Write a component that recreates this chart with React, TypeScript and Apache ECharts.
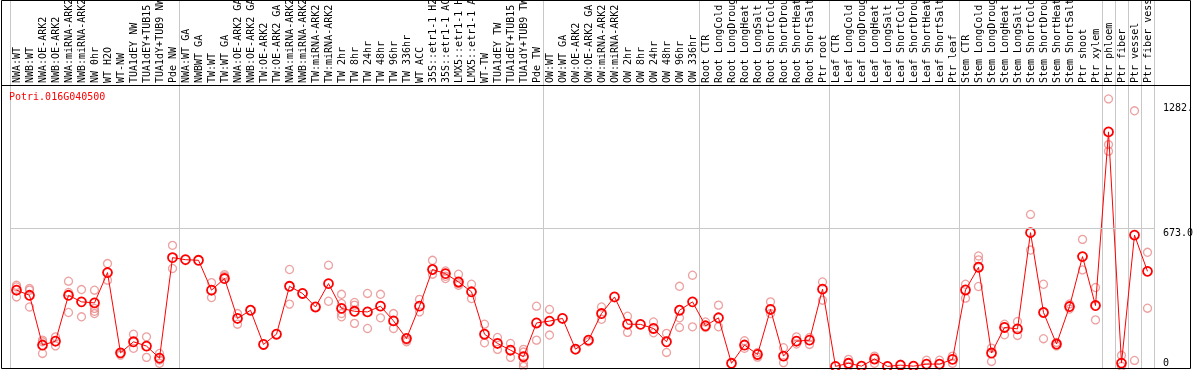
import React, { useEffect, useRef } from 'react';
import * as echarts from 'echarts';

const geneId = 'Potri.016G040500';

const categories = [
  'NWA:WT', 'NWB:WT', 'NWA:OE-ARK2', 'NWB:OE-ARK2', 'NWA:miRNA-ARK2', 'NWB:miRNA-ARK2', 'NW 0hr', 'WT H2O', 'WT-NW',
  'TUA1dEY NW', 'TUA1dEY+TUB15 NW', 'TUA1dY+TUB9 NW', 'Pde NW',
  'NWA:WT GA', 'NWBWT GA', 'TW:WT', 'TW:WT GA', 'NWA:OE-ARK2 GA', 'NWB:OE-ARK2 GA', 'TW:OE-ARK2', 'TW:OE-ARK2 GA',
  'NWA:miRNA-ARK2 GA', 'NWB:miRNA-ARK2 GA', 'TW:miRNA-ARK2', 'TW:miRNA-ARK2 GA', 'TW 2hr', 'TW 8hr', 'TW 24hr', 'TW 48hr',
  'TW 96hr', 'TW 336hr', 'WT ACC', '35S::etr1-1 H2O', '35S::etr1-1 ACC', 'LMX5::etr1-1 H2O', 'LMX5::etr1-1 ACC', 'WT-TW',
  'TUA1dEY TW', 'TUA1dEY+TUB15 TW', 'TUA1dY+TUB9 TW', 'Pde TW',
  'OW:WT', 'OW:WT GA', 'OW:OE-ARK2', 'OW:OE-ARK2 GA', 'OW:miRNA-ARK2', 'OW:miRNA-ARK2 GA', 'OW 2hr', 'OW 8hr', 'OW 24hr',
  'OW 48hr', 'OW 96hr', 'OW 336hr',
  'Root CTR', 'Root LongCold', 'Root LongDrought', 'Root LongHeat', 'Root LongSalt', 'Root ShortCold', 'Root ShortDrought',
  'Root ShortHeat', 'Root ShortSalt', 'Ptr root',
  'Leaf CTR', 'Leaf LongCold', 'Leaf LongDrought', 'Leaf LongHeat', 'Leaf LongSalt', 'Leaf ShortCold', 'Leaf ShortDrought',
  'Leaf ShortHeat', 'Leaf ShortSalt', 'Ptr leaf',
  'Stem CTR', 'Stem LongCold', 'Stem LongDrought', 'Stem LongHeat', 'Stem LongSalt', 'Stem ShortCold', 'Stem ShortDrought',
  'Stem ShortHeat', 'Stem ShortSalt', 'Ptr shoot', 'Ptr xylem',
  'Ptr phloem', 'Ptr fiber', 'Ptr vessel', 'Ptr fiber vessel',
];

const meanValues = [
  372, 347, 104, 123, 347, 315, 310, 458, 66, 120, 99, 40, 531,
  521, 518, 372, 429, 234, 274, 107, 157, 391, 356, 290, 404, 283, 269, 266, 294, 222, 136, 294, 473, 453, 412, 364, 157, 112, 79, 47, 212,
  221, 234, 84, 128, 258, 339, 206, 205, 185, 120, 274, 315,
  198, 237, 15, 104, 58, 278, 50, 123, 128, 377,
  0, 15, 1, 36, 0, 6, 1, 11, 11, 34,
  373, 484, 65, 190, 183, 653, 263, 109, 292, 536, 297,
  1145, 16, 641, 464,
];

const replicateValues: number[][] = [
  [396, 388, 339], [380, 372, 290], [128, 120, 63], [144, 100], [416, 361, 263], [375, 242], [372, 283, 269, 258],
  [502, 421], [55, 62], [157, 88], [144, 44], [63, 31, 15], [591, 478],
  [], [], [409, 336], [448, 440], [258, 206], [], [], [], [473, 304], [], [], [494, 318], [352, 307, 258, 242],
  [312, 299, 210], [356, 185], [352, 237], [258, 185], [120, 128], [327, 266], [518, 450], [466, 429, 440],
  [450, 396, 404], [401, 331], [206, 115], [141, 83], [112, 44], [83, 70, 15, 0], [294, 128],
  [278, 153], [], [80], [120], [290, 230], [], [245, 166], [], [217, 164], [161, 68], [391, 237, 190], [445, 193],
  [217, 190], [299, 193], [], [125, 88], [68, 45], [315, 258], [91, 18], [144, 109], [141, 107], [412, 323],
  [], [34, 0], [], [50, 15], [], [10], [], [30], [30], [50, 15],
  [401, 333], [539, 520, 390], [89, 24], [206, 154], [219, 151], [742, 568], [401, 135], [117, 100], [305, 280],
  [620, 471], [385, 227],
  [1306, 1083, 1051], [54, 0], [1248, 29], [557, 284],
];

const separatorsBefore = [0, 13, 41, 53, 63, 73, 84, 85, 86, 87];
const yTickValues = [0, 673, 1282];
const yTickLabels = ['0', '673.0', '1282.'];
const gridLineValue = 673;
const labelMaxChars = 14;

export default function App() {
  const ref = useRef<HTMLDivElement>(null);
  useEffect(() => {
    const chart = echarts.init(ref.current!, null, { renderer: 'svg' });
    const mono = 'DejaVu Sans Mono';
    const sepLine = {
      show: true,
      interval: (i: number) => separatorsBefore.includes(i),
      lineStyle: { color: '#c8c8c8', width: 1 },
    };
    const scatterData: number[][] = [];
    replicateValues.forEach((arr, i) => arr.forEach((v) => scatterData.push([i, v])));

    chart.setOption({
      animation: false,
      title: {
        text: geneId,
        left: 9,
        top: 91,
        padding: 0,
        textStyle: { fontFamily: mono, fontSize: 10, fontWeight: 'normal', color: '#ff0000' },
      },
      grid: [
        { left: 10, right: 40, top: 0, height: 85, outerBoundsMode: 'none', containLabel: false },
        { left: 10, right: 40, top: 85, bottom: 2, outerBoundsMode: 'none', containLabel: false },
      ],
      xAxis: [
        {
          type: 'category',
          gridIndex: 0,
          data: categories,
          position: 'bottom',
          boundaryGap: true,
          axisLine: { show: false },
          axisTick: { show: false },
          axisLabel: {
            inside: true,
            rotate: 90,
            interval: 0,
            margin: 2,
            fontFamily: mono,
            fontSize: 10,
            color: '#000',
            formatter: (v: string) => v.slice(0, labelMaxChars),
          },
          splitLine: sepLine,
        },
        {
          type: 'category',
          gridIndex: 1,
          data: categories,
          boundaryGap: true,
          axisLine: { show: false },
          axisTick: { show: false },
          axisLabel: { show: false },
          splitLine: sepLine,
        },
      ],
      yAxis: [
        { type: 'value', gridIndex: 0, show: false, min: 0, max: 1 },
        {
          type: 'value',
          gridIndex: 1,
          position: 'right',
          min: -8,
          max: 1374,
          axisLine: { show: false },
          axisTick: { show: false },
          splitLine: { show: false },
          axisLabel: {
            customValues: yTickValues,
            margin: 9,
            align: 'left',
            fontFamily: mono,
            fontSize: 10,
            color: '#000',
            formatter: (v: number) => {
              const idx = yTickValues.indexOf(v);
              const t = idx >= 0 ? yTickLabels[idx] : '';
              return v === 0 ? `{z|${t}}` : `{n|${t}}`;
            },
            rich: {
              z: { fontFamily: mono, fontSize: 10, color: '#000', padding: [0, 0, 8, 0] },
              n: { fontFamily: mono, fontSize: 10, color: '#000', padding: [7, 0, 0, 0] },
            },
          },
        },
      ],
      series: [
        {
          type: 'scatter',
          xAxisIndex: 1,
          yAxisIndex: 1,
          data: scatterData,
          symbol: 'circle',
          symbolSize: 8,
          z: 1,
          itemStyle: { color: 'rgba(0,0,0,0)', borderColor: '#e88888', borderWidth: 1.3 },
          markLine: {
            silent: true,
            symbol: 'none',
            label: { show: false },
            lineStyle: { color: '#c8c8c8', type: 'solid', width: 1 },
            data: [{ yAxis: gridLineValue }],
          },
        },
        {
          type: 'line',
          xAxisIndex: 1,
          yAxisIndex: 1,
          data: meanValues,
          symbol: 'circle',
          symbolSize: 9,
          showSymbol: true,
          showAllSymbol: true,
          z: 3,
          lineStyle: { color: '#ff0000', width: 1 },
          itemStyle: { color: 'rgba(255,255,255,0)', borderColor: '#ff0000', borderWidth: 1.8 },
        },
      ],
      graphic: [
        {
          type: 'rect',
          shape: { x: 1.5, y: 0.5, width: 1189, height: 368 },
          style: { fill: 'none', stroke: '#000', lineWidth: 1 },
          z: 10,
        },
        {
          type: 'line',
          shape: { x1: 1.5, y1: 85.5, x2: 1190.5, y2: 85.5 },
          style: { stroke: '#000', lineWidth: 1 },
          z: 10,
        },
      ],
    });
    return () => chart.dispose();
  }, []);
  return <div ref={ref} style={{ position: 'fixed', left: 0, top: 0, width: 1194, height: 370 }} />;
}
